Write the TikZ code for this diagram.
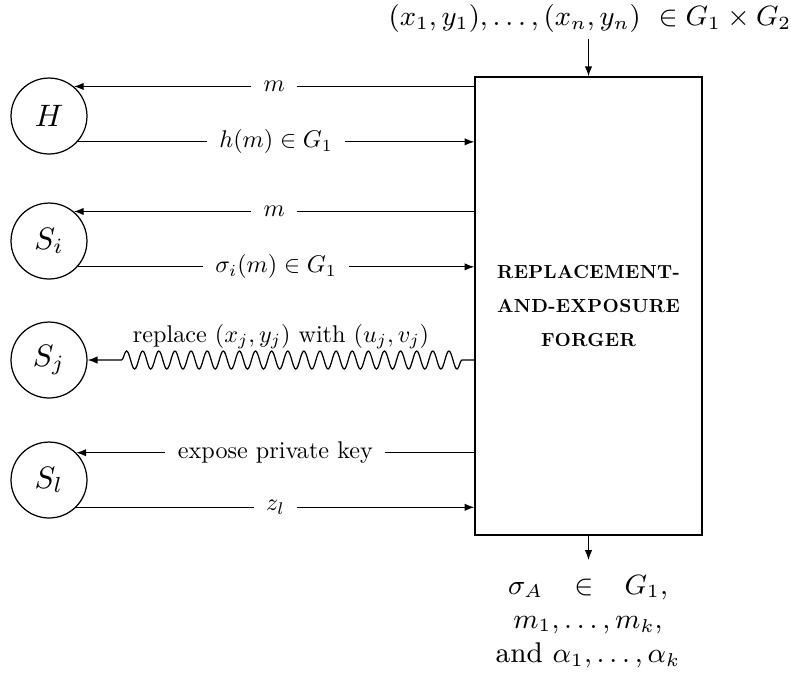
\documentclass[tikz,border=0pt]{standalone}
\usepackage{fontspec}
\usepackage{graphicx}
\newfontfamily\forgerfont[LetterSpace=2]{lmroman10-bold.otf}
\newcommand\elab[1]{\scalebox{0.78}{#1}}
\usetikzlibrary{arrows.meta,decorations.pathmorphing}
\begin{document}
\begin{tikzpicture}[x=0.3226pt,y=-0.3226pt,
  party/.style={circle,draw,minimum size=24.5pt,inner sep=0pt},
  forger/.style={rectangle,draw,minimum width=73.2pt,minimum height=147.8pt,inner sep=0pt,align=center,
    font=\forgerfont\fontsize{6.1}{11}\selectfont},
  msg/.style={-{Latex[length=3.2pt,width=2.4pt]}},
  lbl/.style={fill=white,inner xsep=4pt,inner ysep=1pt},
  bigtext/.style={font=\fontsize{9.2}{11}\selectfont},
  squig/.style={decorate,decoration={snake,amplitude=2.9pt,segment length=5.2pt,pre length=4pt,post length=10pt}},
  ]
\useasboundingbox (0,0) rectangle (791,677);
% parties
\node[party] (H)  at (49,116) {$H$};
\node[party] (Si) at (49,241) {$S_i$};
\node[party] (Sj) at (49,360) {$S_j$};
\node[party] (Sl) at (49,480) {$S_l$};
% forger
\node[forger] (F) at (588.5,306) {REPLACEMENT-\\AND-EXPOSURE\\FORGER};
% input
\node[bigtext] (inputs) at (590,19) {$(x_1,y_1),\ldots,(x_n,y_n)\ \in G_1\times G_2$};
\coordinate (intop) at (588.5,39);
\draw[msg] (intop) -- (F.north);
% output
\coordinate (outend) at (588.5,560);
\draw[msg] (F.south) -- (outend);
\node[align=center,bigtext] (outputs) at (588,622)
  {$\sigma_A\hspace{7.5pt}\in\hspace{7.5pt}G_1,$\\$m_1,\ldots,m_k,$\\and $\alpha_1,\ldots,\alpha_k$};
% H
\draw[msg] (H.50 -| F.west) -- node[lbl]{\elab{$m$}} (H.50);
\draw[msg] (H.-42) -- node[lbl]{\elab{$h(m)\in G_1$}} (H.-42 -| F.west);
% Si
\draw[msg] (Si.50 -| F.west) -- node[lbl]{\elab{$m$}} (Si.50);
\draw[msg] (Si.-42) -- node[lbl]{\elab{$\sigma_i(m)\in G_1$}} (Si.-42 -| F.west);
% Sj
\draw[msg,squig] (Sj.east -| F.west) -- node[above=0pt]{\elab{replace $(x_j,y_j)$ with $(u_j,v_j)$}} (Sj.east);
% Sl
\draw[msg] (Sl.45 -| F.west) -- node[lbl]{\elab{expose private key}} (Sl.45);
\draw[msg] (Sl.-45) -- node[lbl]{\elab{$z_l$}} (Sl.-45 -| F.west);
\end{tikzpicture}
\end{document}
